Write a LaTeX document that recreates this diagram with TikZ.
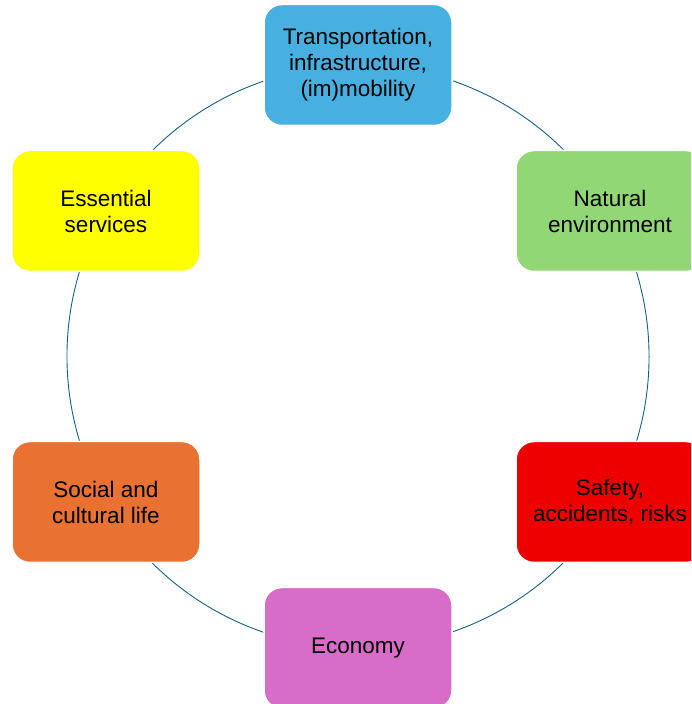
\documentclass[tikz,border=0pt]{standalone}
\usepackage{fontspec}
\setmainfont{Liberation Sans}
\usetikzlibrary{backgrounds}
\definecolor{ringline}{HTML}{156082}
\definecolor{skyblue}{HTML}{47B0E0}
\definecolor{leafgreen}{HTML}{92D775}
\definecolor{alarmred}{HTML}{EE0000}
\definecolor{rustorange}{HTML}{E97132}
\definecolor{orchid}{HTML}{D76DC8}
\definecolor{lemon}{HTML}{FFFF00}
\tikzset{topic/.style={rectangle,rounded corners=18pt,draw=white,line width=1.5pt,
    minimum width=188pt,minimum height=121pt,align=center,inner sep=0pt,
    font=\fontsize{22.5}{26}\selectfont}}
\tikzset{ring/.style={draw=ringline,line width=0.9pt}}

\begin{document}
\begin{tikzpicture}[x=1pt,y=1pt]
  \useasboundingbox (0,0) rectangle (691,704);
  \clip (0,0) rectangle (691,704);
  % Topics
  \node[topic,fill=skyblue] (transport) at (358,639) {Transportation,\\infrastructure,\\(im)mobility};
  \node[topic,fill=leafgreen] (natural) at (610,493) {Natural\\environment};
  \node[topic,fill=alarmred] (safety) at (610,202) {Safety,\\accidents, risks};
  \node[topic,fill=orchid] (economy) at (358,56) {Economy};
  \node[topic,fill=rustorange] (social) at (106,202) {Social and\\cultural life};
  \node[topic,fill=lemon] (essential) at (106,493) {Essential\\services};
  % Ring
  \begin{scope}[on background layer]
    \foreach \from/\ang in {transport/90,natural/30,safety/-30,economy/-90,social/-150,essential/150}
      \draw[ring] (\from.center) arc[start angle=\ang,end angle=\ang-60,radius=291.5];
  \end{scope}
\end{tikzpicture}
\end{document}
